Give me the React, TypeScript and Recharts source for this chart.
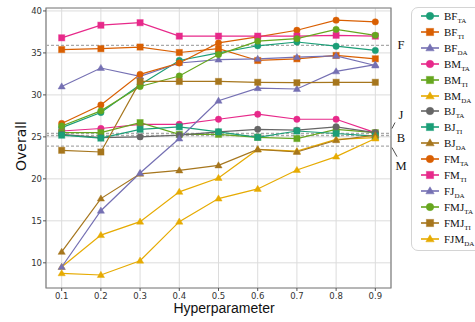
import React from "react";
import {
  CartesianGrid,
  Line,
  LineChart,
  ReferenceArea,
  ReferenceLine,
  XAxis,
  YAxis,
} from "recharts";

const xs = [0.1, 0.2, 0.3, 0.4, 0.5, 0.6, 0.7, 0.8, 0.9];
const yTicks = [10, 15, 20, 25, 30, 35, 40];

const bfTA = [26.1, 27.9, 31.2, 34.1, 35.0, 35.85, 36.3, 35.8, 35.3];
const bfTI = [35.4, 35.5, 35.7, 35.05, 35.5, 34.1, 34.3, 34.7, 34.3];
const bfDA = [31.0, 33.2, 32.2, 33.8, 34.2, 34.3, 34.5, 34.65, 33.5];
const bmTA = [25.7, 26.0, 26.5, 26.5, 27.1, 27.7, 27.1, 27.1, 25.5];
const bmTI = [25.5, 25.5, 26.7, 25.3, 25.3, 24.95, 24.8, 25.9, 25.5];
const bmDA = [9.5, 13.3, 14.9, 18.45, 20.1, 23.5, 23.3, 24.7, 24.9];
const bjTA = [25.3, 24.9, 25.0, 25.2, 25.6, 25.9, 25.8, 26.2, 25.5];
const bjTI = [25.2, 24.85, 25.9, 26.2, 25.6, 24.95, 25.7, 25.4, 25.1];
const bjDA = [11.3, 17.65, 20.6, 21.0, 21.6, 23.5, 23.2, 24.6, 25.2];
const fmTA = [26.6, 28.8, 32.45, 33.8, 36.2, 36.9, 37.7, 38.9, 38.7];
const fmTI = [36.8, 38.3, 38.6, 37.0, 37.0, 37.0, 37.0, 37.1, 37.0];
const fjDA = [9.5, 16.2, 20.7, 24.8, 29.3, 30.8, 30.7, 32.8, 33.6];
const fmjTA = [26.3, 28.1, 31.0, 32.25, 34.8, 36.4, 36.7, 37.8, 37.1];
const fmjTI = [23.4, 23.2, 31.6, 31.6, 31.6, 31.5, 31.45, 31.5, 31.5];
const fjmDA = [8.75, 8.55, 10.25, 14.9, 17.65, 18.8, 21.05, 22.65, 24.8];

// baselines drawn as dashed lines
const baselines = [
  { name: "F", y: 35.9 },
  { name: "J", y: 25.4 },
  { name: "B", y: 25.15 },
  { name: "M", y: 23.9 },
];

const C = {
  teal: "#1b9e77",
  orange: "#d95f02",
  purple: "#7570b3",
  pink: "#e7298a",
  green: "#66a61e",
  yellow: "#e6ab02",
  gray: "#666666",
  brown: "#a6761d",
};

type Shape = "circle" | "square" | "triangle";

const series: { key: string; base: string; sub: string; color: string; shape: Shape; values: number[] }[] = [
  { key: "BF_TA", base: "BF", sub: "TA", color: C.teal, shape: "circle", values: bfTA },
  { key: "BF_TI", base: "BF", sub: "TI", color: C.orange, shape: "square", values: bfTI },
  { key: "BF_DA", base: "BF", sub: "DA", color: C.purple, shape: "triangle", values: bfDA },
  { key: "BM_TA", base: "BM", sub: "TA", color: C.pink, shape: "circle", values: bmTA },
  { key: "BM_TI", base: "BM", sub: "TI", color: C.green, shape: "square", values: bmTI },
  { key: "BM_DA", base: "BM", sub: "DA", color: C.yellow, shape: "triangle", values: bmDA },
  { key: "BJ_TA", base: "BJ", sub: "TA", color: C.gray, shape: "circle", values: bjTA },
  { key: "BJ_TI", base: "BJ", sub: "TI", color: C.teal, shape: "square", values: bjTI },
  { key: "BJ_DA", base: "BJ", sub: "DA", color: C.brown, shape: "triangle", values: bjDA },
  { key: "FM_TA", base: "FM", sub: "TA", color: C.orange, shape: "circle", values: fmTA },
  { key: "FM_TI", base: "FM", sub: "TI", color: C.pink, shape: "square", values: fmTI },
  { key: "FJ_DA", base: "FJ", sub: "DA", color: C.purple, shape: "triangle", values: fjDA },
  { key: "FMJ_TA", base: "FMJ", sub: "TA", color: C.green, shape: "circle", values: fmjTA },
  { key: "FMJ_TI", base: "FMJ", sub: "TI", color: C.brown, shape: "square", values: fmjTI },
  { key: "FJM_DA", base: "FJM", sub: "DA", color: C.yellow, shape: "triangle", values: fjmDA },
];

const rows = xs.map((x, i) => {
  const r: Record<string, number> = { x };
  series.forEach((s) => (r[s.key] = s.values[i]));
  return r;
});

function marker(shape: Shape, color: string, cx: number, cy: number, s: number, key?: any) {
  const common = { fill: color, stroke: color, strokeOpacity: 0.45, strokeWidth: 1 };
  if (shape === "circle") return <circle key={key} cx={cx} cy={cy} r={s * 0.5} {...common} />;
  if (shape === "square")
    return <rect key={key} x={cx - s / 2} y={cy - s / 2} width={s} height={s} {...common} />;
  const h = s * 0.95;
  return (
    <polygon
      key={key}
      points={`${cx},${cy - h * 0.62} ${cx - s * 0.58},${cy + h * 0.42} ${cx + s * 0.58},${cy + h * 0.42}`}
      {...common}
    />
  );
}

const dotFor = (shape: Shape, color: string) => (props: any) => {
  const { cx, cy, index } = props;
  if (cx == null || cy == null) return <g key={index} />;
  return marker(shape, color, cx, cy, shape === "circle" ? 6.4 : 6.2, index);
};

const baselineLabel = (name: string) => (props: any) => {
  const vb = props.viewBox || {};
  const right = (vb.x ?? 0) + (vb.width ?? 0);
  const y = vb.y ?? 0;
  const tx = right + 10;
  const style = { fontFamily: "Liberation Serif, serif", fontSize: 12.5, fill: "#111" };
  if (name === "F")
    return <text x={tx} y={y + 4} textAnchor="middle" style={style}>F</text>;
  if (name === "J")
    return (
      <g>
        <text x={tx} y={y - 15} textAnchor="middle" style={style}>J</text>
        <line x1={right + 4} y1={y - 11} x2={right + 1} y2={y - 5} stroke="#222" strokeWidth={0.8} />
      </g>
    );
  if (name === "B")
    return <text x={tx} y={y + 6} textAnchor="middle" style={style}>B</text>;
  return (
    <g>
      <text x={tx} y={y + 24} textAnchor="middle" style={style}>M</text>
      <line x1={right + 1} y1={y + 1.5} x2={right + 6} y2={y + 10.5} stroke="#222" strokeWidth={0.8} />
    </g>
  );
};

const tickStyle = { fill: "#333", fontSize: 8.5, fontFamily: "DejaVu Sans, sans-serif" };

function LegendBox() {
  return (
    <div
      style={{
        position: "absolute",
        left: 411,
        top: 7,
        width: 74,
        height: 244,
        border: "1px solid #d4d4d4",
        borderRadius: 7,
        background: "rgba(255,255,255,0.85)",
        boxSizing: "border-box",
      }}
    >
      {series.map((s, i) => (
        <div
          key={s.key}
          style={{ position: "absolute", left: 0, top: i * 15.9, height: 16, width: 74 }}
        >
          <svg width={22} height={16} style={{ position: "absolute", left: 8, top: 0 }}>
            <line x1={1} y1={8} x2={19} y2={8} stroke={s.color} strokeWidth={1.6} />
            {marker(s.shape, s.color, 10, 8, s.shape === "circle" ? 7.5 : 7.2)}
          </svg>
          <span
            style={{
              position: "absolute",
              left: 32,
              top: 1,
              fontFamily: "Liberation Serif, serif",
              fontSize: 11,
              color: "#111",
              whiteSpace: "nowrap",
              lineHeight: "14px",
            }}
          >
            {s.base}
            <span style={{ fontSize: 7, position: "relative", top: 3 }}>{s.sub}</span>
          </span>
        </div>
      ))}
    </div>
  );
}

export default function App() {
  return (
    <div style={{ position: "absolute", left: 0, top: 0, width: 475, height: 322, background: "#fff", overflow: "hidden" }}>
      <LineChart width={475} height={322} data={rows} margin={{ top: 8, right: 84, bottom: 0, left: 13 }}>
        <CartesianGrid stroke="#dcdcdc" strokeWidth={1} />
        <XAxis
          dataKey="x"
          type="number"
          domain={[0.06, 0.94]}
          ticks={xs}
          allowDataOverflow
          tickFormatter={(v: number) => v.toFixed(1)}
          height={34}
          axisLine={false}
          tickLine={{ stroke: "#555" }}
          tickSize={3}
          tickMargin={2}
          tick={tickStyle}
        />
        <YAxis
          type="number"
          domain={[7.0, 40.35]}
          ticks={yTicks}
          allowDataOverflow
          width={33}
          axisLine={false}
          tickLine={{ stroke: "#555" }}
          tickSize={3}
          tickMargin={1}
          tick={tickStyle}
        />
        <ReferenceArea x1={0.06} x2={0.94} y1={7.0} y2={40.35} fill="none" stroke="#808080" strokeWidth={1.2} />
        {baselines.map((b) => (
          <ReferenceLine
            key={b.name}
            y={b.y}
            stroke="#aaaaaa"
            strokeWidth={1.3}
            strokeDasharray="3 2"
            label={baselineLabel(b.name)}
          />
        ))}
        {series.map((s) => (
          <Line
            key={s.key}
            dataKey={s.key}
            stroke={s.color}
            strokeWidth={1.2}
            dot={dotFor(s.shape, s.color)}
            activeDot={false}
            isAnimationActive={false}
          />
        ))}
      </LineChart>
      <svg width={475} height={322} style={{ position: "absolute", left: 0, top: 0, pointerEvents: "none" }}>
        <text
          x={224}
          y={313}
          textAnchor="middle"
          style={{ fontFamily: "Liberation Sans, Arial, sans-serif", fontSize: 14, fill: "#111" }}
        >
          Hyperparameter
        </text>
        <text
          x={26}
          y={146}
          textAnchor="middle"
          transform="rotate(-90 26 146)"
          style={{ fontFamily: "DejaVu Sans, sans-serif", fontSize: 14, fill: "#111" }}
        >
          Overall
        </text>
      </svg>
      <LegendBox />
    </div>
  );
}
